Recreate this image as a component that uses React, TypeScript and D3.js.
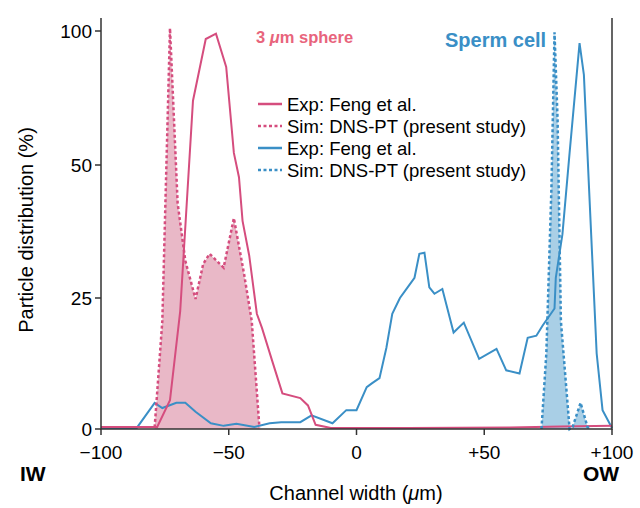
import * as d3 from "d3"

type P = [number, number]

// Pink: 3 um sphere
const sphereExp: P[] = [
  [-100, 0.4], [-78, 0.4], [-73, 5.5], [-69, 22.5], [-64, 74], [-59, 97], [-55, 99], [-51, 86.6],
  [-48, 54.5], [-46, 47.7], [-44.6, 39.5], [-42, 33], [-39, 22], [-37, 19.3], [-33, 13], [-29, 6.8],
  [-22, 5.9], [-19, 4.5], [-16, 0.8], [-10, 0.2], [20, 0.2], [60, 0.3], [80, 0.5], [100, 0.6],
]
const sphereSim: P[] = [
  [-79, 0.3], [-76, 20.6], [-73, 101], [-70, 42.8], [-67, 32], [-63, 24.8], [-60, 31.4], [-57.5, 33.3],
  [-52, 30.7], [-48, 40], [-44, 29.5], [-41, 20.6], [-38, 0.3],
]
// Blue: sperm cell
const spermExp: P[] = [
  [-100, 0.2], [-86, 0.2], [-79, 5], [-76, 4], [-70.5, 5], [-67, 5], [-63, 3.3], [-57, 1.1], [-52, 0.6],
  [-47, 1], [-40, 0.4], [-34, 1.1], [-29.5, 1.3], [-22, 1.3], [-17.6, 2.6], [-9.4, 1.1], [-4, 3.6],
  [0, 3.6], [4, 8], [6, 8.7], [9, 9.7], [11.7, 15.5], [14, 22], [17, 25], [20, 27], [22.7, 28.8],
  [24.6, 33.3], [26.6, 33.5], [28.5, 27], [30.5, 25.8], [33.6, 26.7], [38, 18.4], [42, 20.3], [48, 13.4],
  [54.8, 15.3], [58.6, 11.2], [63.8, 10.6], [67, 17.4], [70.4, 17.8], [72.8, 19.7], [77.5, 23], [78, 28.8],
  [80.6, 37], [83.4, 54.5], [87.3, 95.5], [89, 83.6], [91, 45.8], [94, 14.4], [96.3, 3.6], [100, 0.2],
]
const spermSim: P[] = [
  [72.4, 0], [74.3, 14.4], [76.3, 45.8], [77.5, 99.5], [78.7, 67], [80, 20.6], [83.4, 0], [84.6, 0.4],
  [87.7, 5], [90.4, 0.4], [91.5, 0],
]

const xTicks = [-100, -50, 0, 50, 100]
const xTickLabels = ["\u2212100", "\u221250", "0", "+50", "+100"]
const yTicks = [0, 25, 50, 100]

const PINK = "#d54d7e"
const PINK_FILL = "#e9b8c7"
const BLUE = "#3a8fc6"
const BLUE_FILL = "#a9cfe6"
const FONT = "'Liberation Sans', Arial, sans-serif"

export default function App() {
  const W = 640, H = 508
  const x = d3.scaleLinear().domain([-100, 100]).range([101, 612])
  // the figure uses equally spaced ticks 0/25/50/100 (piecewise scale)
  const y = d3.scaleLinear().domain([0, 25, 50, 100]).range([429, 298, 165, 31])
  const line = d3.line<P>().x(d => x(d[0])).y(d => y(d[1]))
  const area = d3.area<P>().x(d => x(d[0])).y0(y(0)).y1(d => y(d[1]))

  const legend = [
    { c: PINK, dash: false, t: "Exp: Feng et al." },
    { c: PINK, dash: true, t: "Sim: DNS-PT (present study)" },
    { c: BLUE, dash: false, t: "Exp: Feng et al." },
    { c: BLUE, dash: true, t: "Sim: DNS-PT (present study)" },
  ]

  return (
    <svg width={W} height={H} style={{ position: "absolute", left: 0, top: 0 }} fontFamily={FONT}>
      <rect width={W} height={H} fill="white" />
      <path d={area(sphereSim)!} fill={PINK_FILL} />
      <path d={area(spermSim)!} fill={BLUE_FILL} />
      <path d={line(spermExp)!} fill="none" stroke={BLUE} strokeWidth={2} />
      <path d={line(sphereExp)!} fill="none" stroke={PINK} strokeWidth={2} />
      <path d={line(sphereSim)!} fill="none" stroke={PINK} strokeWidth={2.5} strokeDasharray="3,2.5" />
      <path d={line(spermSim)!} fill="none" stroke={BLUE} strokeWidth={2.5} strokeDasharray="3,2.5" />

      <path d={`M${x(-100)},18V${y(0)}H${x(100)}V18`} fill="none" stroke="#333" strokeWidth={1.5} />
      {xTicks.map((t, i) => (
        <g key={t}>
          <line x1={x(t)} x2={x(t)} y1={y(0)} y2={y(0) + 6} stroke="#333" strokeWidth={1.5} />
          <text x={x(t)} y={y(0) + 30} textAnchor="middle" fontSize={19}>{xTickLabels[i]}</text>
        </g>
      ))}
      {yTicks.map(t => (
        <g key={t}>
          <line x1={x(-100) - 6} x2={x(-100)} y1={y(t)} y2={y(t)} stroke="#333" strokeWidth={1.5} />
          <text x={x(-100) - 9} y={y(t) + 7} textAnchor="end" fontSize={19}>{t}</text>
        </g>
      ))}

      <text x={356} y={500} textAnchor="middle" fontSize={20}>Channel width (<tspan fontStyle="italic">μ</tspan>m)</text>
      <text transform="translate(33,230) rotate(-90)" textAnchor="middle" fontSize={20}>Particle distribution (%)</text>
      <text x={20} y={481} fontSize={21} fontWeight="bold">IW</text>
      <text x={583} y={481} fontSize={21} fontWeight="bold">OW</text>

      <text x={256} y={43} fontSize={16.5} fontWeight="bold" fill="#e8647c">3 <tspan fontStyle="italic">μ</tspan>m sphere</text>
      <text x={445} y={47} fontSize={20} fontWeight="bold" fill={BLUE}>Sperm cell</text>

      {legend.map((l, i) => (
        <g key={i} transform={`translate(258,${104 + i * 22})`}>
          <line x1={0} x2={24} y1={0} y2={0} stroke={l.c} strokeWidth={2.5} strokeDasharray={l.dash ? "3,2.5" : undefined} />
          <text x={29} y={6.5} fontSize={18.5}>{l.t}</text>
        </g>
      ))}
    </svg>
  )
}
